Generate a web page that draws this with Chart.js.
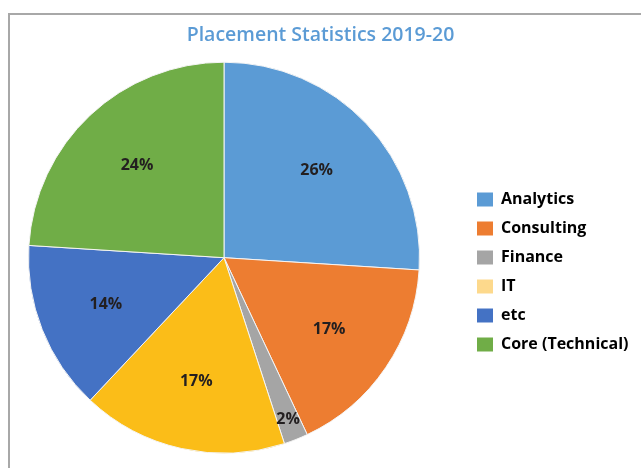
<!DOCTYPE html>
<html>
<head>
<meta charset="utf-8">
<script src="https://cdn.jsdelivr.net/npm/chart.js@4"></script>
<style>
  html, body { margin: 0; padding: 0; background: #fff; }
  #wrap { position: relative; width: 641px; height: 468px; overflow: hidden; }
  #frame { position: absolute; left: 8px; top: 13px; width: 700px; height: 500px;
           border-left: 2px solid #a8a8a8; border-top: 2px solid #a8a8a8; }
  canvas { position: absolute; left: 0; top: 0; }
</style>
</head>
<body>
<div id="wrap">
  <div id="frame"></div>
  <canvas id="placementPie" width="641" height="468"></canvas>
</div>
<script>
const categories = ["Analytics", "Consulting", "Finance", "IT", "etc", "Core (Technical)"];
const shares = [26, 17, 2, 17, 14, 24];
const sliceColors = ["#5b9bd5", "#ed7d31", "#a5a5a5", "#fbbd18", "#4472c4", "#70ad47"];
const legendColors = ["#5b9bd5", "#ed7d31", "#a5a5a5", "#fdd98c", "#4472c4", "#70ad47"];

const pctLabels = {
    id: "pctLabels",
    afterDatasetsDraw(chart) {
        const ctx = chart.ctx;
        const meta = chart.getDatasetMeta(0);
        const total = shares.reduce((a, b) => a + b, 0);
        ctx.save();
        ctx.font = "bold 16px 'Open Sans', sans-serif";
        ctx.fillStyle = "#231f20";
        ctx.textAlign = "center";
        ctx.textBaseline = "middle";
        meta.data.forEach((arc, i) => {
            const p = arc.getProps(["x", "y", "startAngle", "endAngle", "outerRadius"], true);
            const mid = (p.startAngle + p.endAngle) / 2;
            const pct = Math.round((shares[i] / total) * 100);
            const r = p.outerRadius * (pct < 5 ? 0.89 : 0.65);
            ctx.fillText(pct + "%", p.x + Math.cos(mid) * r, p.y + Math.sin(mid) * r);
        });
        ctx.restore();
    },
};

// pin legend and title where the original puts them
const placeBoxes = {
    id: "placeBoxes",
    beforeInit(chart) {
        const fit = chart.legend.fit;
        chart.legend.fit = function () {
            fit.call(this);
            this.width = 221;
        };
    },
    afterLayout(chart) {
        const lg = chart.legend;
        const w = lg.right - lg.left;
        lg.left = 464;
        lg.right = 464 + w;
        lg.top += 45;
        lg.bottom += 45;
        const tb = chart.titleBlock;
        tb.left -= 14;
        tb.right -= 14;
    },
};

new Chart(document.getElementById("placementPie").getContext("2d"), {
    type: "pie",
    data: {
        labels: categories,
        datasets: [
            {
                data: shares,
                backgroundColor: sliceColors,
                borderColor: "#f4f4f4",
                borderWidth: 1,
            },
        ],
    },
    options: {
        responsive: false,
        animation: false,
        layout: { padding: { left: 28, right: 0, top: 0, bottom: 14 } },
        plugins: {
            title: {
                display: true,
                text: "Placement Statistics 2019-20",
                color: "#5b9bd5",
                font: { family: "'Open Sans', sans-serif", size: 19.5, weight: "600" },
                padding: { top: 24, bottom: 14 },
            },
            legend: {
                position: "right",
                align: "center",
                labels: {
                    boxWidth: 16,
                    boxHeight: 14,
                    padding: 13,
                    color: "#231f20",
                    font: { family: "'Open Sans', sans-serif", size: 16, weight: "bold" },
                    generateLabels(chart) {
                        return categories.map((c, i) => ({
                            text: c,
                            fillStyle: legendColors[i],
                            strokeStyle: legendColors[i],
                            lineWidth: 0,
                            hidden: false,
                            index: i,
                        }));
                    },
                },
            },
            tooltip: { enabled: false },
        },
    },
    plugins: [pctLabels, placeBoxes],
});
</script>
</body>
</html>
